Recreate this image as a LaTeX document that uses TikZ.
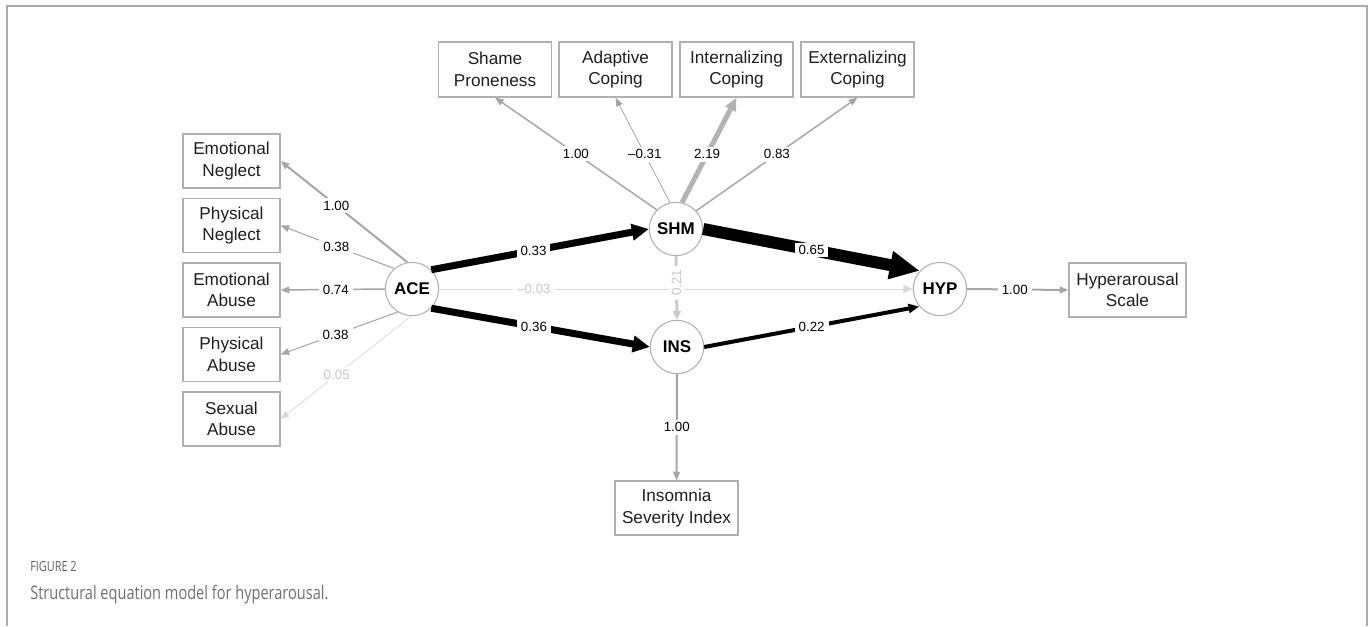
\documentclass[tikz,border=0pt]{standalone}
\usepackage{fontspec}
\setmainfont{Liberation Sans}
\newfontfamily\capfont[FakeStretch=0.78]{Open Sans}
\usetikzlibrary{arrows.meta}
\definecolor{framegray}{HTML}{ABABAB}
\definecolor{boxgray}{HTML}{B0B0B0}
\definecolor{ldgray}{HTML}{A6A6A6}
\definecolor{pale}{HTML}{DADADA}
\definecolor{paler}{HTML}{E4E4E4}
\definecolor{midpale}{HTML}{CBCBCB}
\definecolor{paletext}{HTML}{C8C8C8}
\definecolor{capgray}{HTML}{707070}
\definecolor{figgray}{HTML}{606060}
\definecolor{txt}{HTML}{1E1E1E}
\begin{document}
\begin{tikzpicture}[x=0.75pt,y=-0.75pt,
  obs/.style={draw=boxgray, line width=0.9pt, rectangle, align=center, inner sep=0pt,
    minimum height=40.5pt, text=txt, font=\fontsize{12.9}{16}\selectfont},
  lat/.style={draw=boxgray, line width=0.8pt, circle, minimum size=40pt, inner sep=0pt,
    fill=white, text=black, font=\bfseries\fontsize{12.7}{15}\selectfont},
  lbl/.style={fill=white, inner xsep=3pt, inner ysep=2pt, text=black, font=\fontsize{10}{11}\selectfont},
  palelbl/.style={lbl, text=paletext},
  gtip/.style={-{Triangle[length=6.5pt,width=5pt]}},
  load/.style={draw=ldgray, gtip},
]
\useasboundingbox (0,0) rectangle (1371,626);
\draw[framegray, line width=1.1pt] (7,626) -- (7,6) -- (1367,6) -- (1367,626);

% observed indicators, left
\node[obs, minimum width=72.75pt] (EN) at (231.5,161) {Emotional\\Neglect};
\node[obs, minimum width=72.75pt] (PN) at (231.5,225.5) {Physical\\Neglect};
\node[obs, minimum width=72.75pt] (EA) at (231.5,290) {Emotional\\Abuse};
\node[obs, minimum width=72.75pt] (PA) at (231.5,354.5) {Physical\\Abuse};
\node[obs, minimum width=72.75pt] (SA) at (231.5,419) {Sexual\\Abuse};

% observed indicators, top
\node[obs, minimum width=84.75pt, minimum height=41.25pt] (SP) at (495,69.5) {Shame\\Proneness};
\node[obs, minimum width=84.75pt, minimum height=41.25pt] (AC) at (615.5,69.5) {Adaptive\\Coping};
\node[obs, minimum width=84.75pt, minimum height=41.25pt] (IC) at (736.5,69.5) {Internalizing\\Coping};
\node[obs, minimum width=84.75pt, minimum height=41.25pt] (EC) at (857.5,69.5) {Externalizing\\Coping};

% other indicators
\node[obs, minimum width=87.75pt] (HS) at (1127.5,290) {Hyperarousal\\Scale};
\node[obs, minimum width=92.25pt] (ISI) at (676.5,508) {Insomnia\\Severity Index};

% latent variables
\node[lat] (ACE) at (412,289) {ACE};
\node[lat] (SHM) at (676,229) {SHM};
\node[lat] (INS) at (677,347) {INS};
\node[lat] (HYP) at (940,289) {HYP};

% ACE loadings
\draw[load, line width=1.5pt] (ACE.100) -- node[lbl, pos=0.56] {1.00} (EN.east);
\draw[load, line width=0.8pt] (ACE.131) -- node[lbl, pos=0.51] {0.38} (PN.east);
\draw[load, line width=1.1pt] (ACE.west) -- node[lbl, pos=0.47] {0.74} (EA.east);
\draw[load, line width=0.8pt] (ACE.238) -- node[lbl, pos=0.53] {0.38} (PA.east);
\draw[load, draw=pale, line width=0.6pt] (ACE.268) -- node[palelbl, pos=0.57] {0.05} (SA.east);

% SHM loadings
\draw[load, line width=1.1pt] (SHM.135) -- node[lbl, pos=0.5] {1.00} (SP.south);
\draw[load, line width=0.6pt] (SHM.103) -- node[lbl, pos=0.46] {--0.31} (AC.south);
\draw[draw=ldgray!85, line width=3.75pt, -{Triangle[length=9.75pt,width=8.25pt]}]
  (SHM.77) -- node[lbl, pos=0.46] {2.19} (IC.south);
\draw[load, line width=1.1pt] (SHM.42) -- node[lbl, pos=0.5] {0.83} (EC.south);

% other loadings
\draw[load, line width=1.5pt] (INS.south) -- node[lbl, pos=0.5] {1.00} (ISI.north);
\draw[load, line width=1.5pt] (HYP.east) -- node[lbl, pos=0.47] {1.00} (HS.west);

% structural paths
\draw[draw=paler, line width=0.75pt, -{Triangle[length=7pt,width=6pt]}, color=pale]
  (ACE.east) -- node[palelbl, pos=0.2] {--0.03} (HYP.west);
\draw[draw=midpale, line width=2.25pt, -{Triangle[length=6.75pt,width=6pt]}]
  (SHM.south) -- node[palelbl, pos=0.42, rotate=90] {0.21} (INS.north);
\draw[black, line width=5.25pt, -{Triangle[length=12.75pt,width=12pt]}]
  (ACE.45) -- node[lbl, pos=0.47] {0.33} (SHM.west);
\draw[black, line width=5.25pt, -{Triangle[length=12.75pt,width=12pt]}]
  (ACE.-45) -- node[lbl, pos=0.47] {0.36} (INS.west);
\draw[black, line width=9pt, -{Triangle[length=22.5pt,width=20pt]}]
  (SHM.east) -- node[lbl, pos=0.5] {0.65} (HYP.138);
\draw[black, line width=3pt, -{Triangle[length=8pt,width=6.75pt]}]
  (INS.east) -- node[lbl, pos=0.5] {0.22} (HYP.220);

% caption
\node[anchor=base west, inner sep=0pt, text=figgray, font=\capfont\fontsize{10.5}{12}\selectfont] (fig) at (30,571) {FIGURE 2};
\node[anchor=base west, inner sep=0pt, text=capgray, font=\capfont\fontsize{14}{16}\selectfont] (cap) at (30,599) {Structural equation model for hyperarousal.};
\end{tikzpicture}
\end{document}
